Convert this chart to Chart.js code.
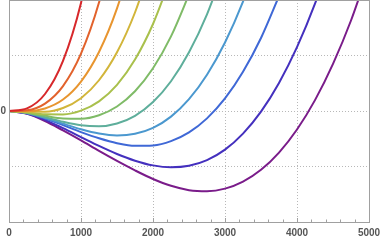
<!DOCTYPE html>
<html>
<head>
<meta charset="utf-8">
<script src="https://cdn.jsdelivr.net/npm/chart.js@4"></script>
<style>
  html, body { margin: 0; padding: 0; background: #fff; }
  #wrap { width: 382px; height: 241px; }
</style>
</head>
<body>
<div id="wrap"><canvas id="plot" width="382" height="241"></canvas></div>
<script>
// sample positions along x
const xValues = [0, 250, 500, 750, 1000, 1250, 1500, 1750, 2000, 2250, 2500, 2750, 3000, 3250, 3500, 3750, 4000, 4250, 4500, 4750, 5000]

// curves (red ... purple)
const curve1 = [0, 0.048, 0.306, 0.904, 1.948, 3.535]
const curve2 = [0, 0.014, 0.134, 0.449, 1.034, 1.954, 3.27]
const curve3 = [0, -0.002, 0.046, 0.206, 0.53, 1.063, 1.849, 2.925]
const curve4 = [0, -0.015, -0.014, 0.054, 0.231, 0.554, 1.058, 1.775, 2.735]
const curve5 = [0, -0.024, -0.059, -0.061, 0.006, 0.174, 0.472, 0.928, 1.568, 2.416]
const curve6 = [0, -0.03, -0.087, -0.134, -0.139, -0.076, 0.081, 0.355, 0.769, 1.344, 2.101, 2.9]
const curve7 = [0, -0.035, -0.111, -0.194, -0.257, -0.275, -0.225, -0.087, 0.161, 0.536, 1.058, 1.743, 2.61]
const curve8 = [0, -0.037, -0.122, -0.228, -0.329, -0.406, -0.44, -0.411, -0.304, -0.101, 0.214, 0.654, 1.234, 1.971, 2.874]
const curve9 = [0, -0.04, -0.135, -0.255, -0.38, -0.492, -0.58, -0.627, -0.62, -0.543, -0.386, -0.133, 0.226, 0.707, 1.316, 2.069]
const curve10 = [0, -0.045, -0.16, -0.31, -0.47, -0.63, -0.775, -0.895, -0.98, -1.014, -0.987, -0.885, -0.696, -0.407, -0.011, 0.506, 1.15, 1.933, 2.867]
const curve11 = [0, -0.05, -0.18, -0.35, -0.53, -0.72, -0.9, -1.07, -1.225, -1.348, -1.426, -1.446, -1.399, -1.272, -1.06, -0.749, -0.333, 0.196, 0.85, 1.631, 2.567]

const curves = [curve1, curve2, curve3, curve4, curve5, curve6, curve7, curve8, curve9, curve10, curve11]
const colors = ['#d7282b', '#e2622c', '#e8952f', '#d2b53a', '#a9c04c', '#7fbb67', '#5eae9b', '#4b98cf', '#3f68d6', '#4430be', '#7a1c8a']

const xTicks = [0, 1000, 2000, 3000, 4000, 5000]
const yTicks = [-2, -1, 0, 1, 2]

const datasets = curves.map((ys, i) => ({
  data: ys.map((y, j) => ({x: xValues[j], y})),
  borderColor: colors[i],
  borderWidth: 2,
  pointRadius: 0,
  fill: false,
  cubicInterpolationMode: 'monotone'
}))

const frameAndTicks = {
  id: 'frameAndTicks',
  afterDraw(chart) {
    const {ctx, chartArea: a, scales: {x}} = chart
    ctx.save()
    ctx.strokeStyle = '#a0a0a0'
    ctx.lineWidth = 1
    ctx.strokeRect(a.left + 0.5, a.top + 0.5, a.right - a.left, a.bottom - a.top)
    // inward ticks on the bottom frame
    for (let v = 0; v <= 5000; v += 200) {
      const px = Math.round(x.getPixelForValue(v)) + 0.5
      const len = v % 1000 === 0 ? 4 : 2.5
      ctx.beginPath()
      ctx.moveTo(px, a.bottom)
      ctx.lineTo(px, a.bottom - len)
      ctx.stroke()
    }
    ctx.restore()
  }
}

const gridColor = (ctx) => {
  const v = ctx.tick && ctx.tick.value
  const s = ctx.scale
  return (v === s.min || v === s.max) ? 'rgba(0,0,0,0)' : '#b8b8b8'
}

const tickFont = {family: 'Liberation Sans', size: 10, weight: 'bold'}

new Chart(document.getElementById('plot'), {
  type: 'line',
  data: {datasets},
  plugins: [frameAndTicks],
  options: {
    responsive: false,
    animation: false,
    layout: {padding: 0},
    plugins: {legend: {display: false}, tooltip: {enabled: false}},
    scales: {
      x: {
        type: 'linear',
        min: 0,
        max: 5000,
        afterBuildTicks: (s) => { s.ticks = xTicks.map(v => ({value: v})) },
        afterFit: (s) => { s.height = 19; s.paddingLeft = 0; s.paddingRight = 13 },
        border: {display: false, dash: [1, 2]},
        grid: {color: gridColor, drawTicks: false, lineWidth: 1},
        ticks: {color: '#555', font: tickFont, padding: 5, maxRotation: 0, autoSkip: false,
          callback: (v) => String(v)}
      },
      y: {
        min: -2,
        max: 2,
        afterBuildTicks: (s) => { s.ticks = yTicks.map(v => ({value: v})) },
        afterFit: (s) => { s.width = 9; s.paddingTop = 0; s.paddingBottom = 0 },
        border: {display: false, dash: [1, 2]},
        grid: {color: gridColor, drawTicks: false, lineWidth: 1},
        ticks: {color: '#555', font: tickFont, padding: 3,
          callback: (v) => v === 0 ? '0' : ''}
      }
    }
  }
})
</script>
</body>
</html>
